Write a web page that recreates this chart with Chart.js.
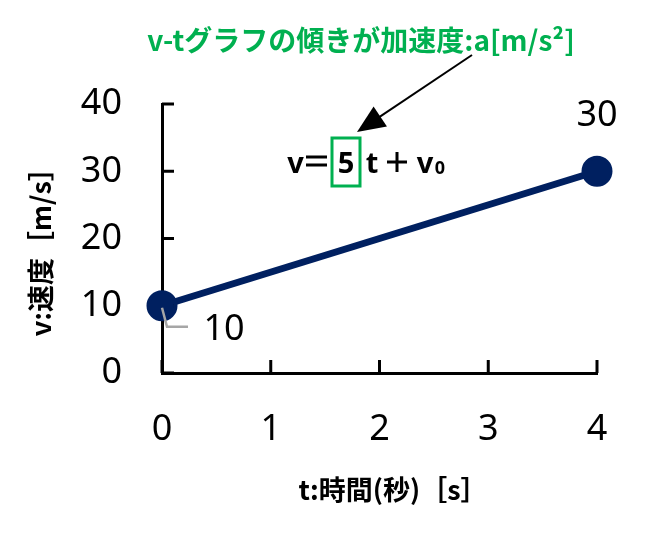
<!DOCTYPE html>
<html lang="ja">
<head>
<meta charset="utf-8">
<script src="https://cdn.jsdelivr.net/npm/chart.js@4.4.1/dist/chart.umd.min.js"></script>
<style>
  html, body { margin: 0; padding: 0; background: #fff; }
  #wrap { width: 665px; height: 534px; }
</style>
</head>
<body>
<div id="wrap"><canvas id="vt" width="665" height="534"></canvas></div>
<script>
const times = [0, 4];
const speeds = [10, 30];
const xRange = [0, 4];
const yRange = [0, 40];
const xTitle = "　t:時間(秒)［s］";
const yTitle = "v:速度［m/s］　";
const noteText = "v-tグラフの傾きが加速度:a[m/s²]";

const navy = "#002060";
const green = "#00B050";
const jpFont = "'Noto Sans CJK JP', 'Noto Sans', sans-serif";
const numFont = "'Noto Sans', 'DejaVu Sans', sans-serif";

// inward tick marks, data labels and the slope note
const extras = {
  id: "extras",
  afterDraw(chart) {
    const ctx = chart.ctx;
    const xs = chart.scales.x;
    const ys = chart.scales.y;
    const area = chart.chartArea;

    ctx.save();
    ctx.strokeStyle = "#000";
    ctx.lineWidth = 3;
    xs.ticks.forEach(t => {
      const px = xs.getPixelForValue(t.value);
      ctx.beginPath();
      ctx.moveTo(px, area.bottom);
      ctx.lineTo(px, area.bottom - 13);
      ctx.stroke();
    });
    ys.ticks.forEach(t => {
      const py = ys.getPixelForValue(t.value);
      ctx.beginPath();
      ctx.moveTo(area.left, py);
      ctx.lineTo(area.left + 12, py);
      ctx.stroke();
    });

    // redraw points on top of the axes
    chart.getDatasetMeta(0).data.forEach(p => {
      ctx.fillStyle = navy;
      ctx.beginPath();
      ctx.arc(p.x, p.y, 12, 0, Math.PI * 2);
      ctx.fill();
    });

    // data labels
    const p0 = chart.getDatasetMeta(0).data[0];
    const p1 = chart.getDatasetMeta(0).data[1];
    ctx.fillStyle = "#000";
    ctx.font = "36px " + numFont;
    ctx.textAlign = "center";
    ctx.textBaseline = "middle";
    ctx.fillText(String(speeds[1]), p1.x, p1.y - 56);
    ctx.fillText(String(speeds[0]), p0.x + 62, p0.y + 24);

    ctx.strokeStyle = "#A6A6A6";
    ctx.lineWidth = 2.5;
    ctx.beginPath();
    ctx.moveTo(p0.x, p0.y + 2);
    ctx.lineTo(p0.x + 5, p0.y + 21);
    ctx.lineTo(p0.x + 26, p0.y + 21);
    ctx.stroke();

    // slope note
    ctx.fillStyle = green;
    ctx.font = "bold 28px " + jpFont;
    ctx.fillText(noteText, 361, 40);

    // arrow
    const ax = 472, ay = 55, bx = 357, by = 132;
    const ang = Math.atan2(by - ay, bx - ax);
    ctx.strokeStyle = "#000";
    ctx.lineWidth = 2;
    ctx.beginPath();
    ctx.moveTo(ax, ay);
    ctx.lineTo(bx - 20 * Math.cos(ang), by - 20 * Math.sin(ang));
    ctx.stroke();
    ctx.fillStyle = "#000";
    ctx.beginPath();
    ctx.moveTo(bx, by);
    ctx.lineTo(bx - 28 * Math.cos(ang) + 12 * Math.sin(ang), by - 28 * Math.sin(ang) - 12 * Math.cos(ang));
    ctx.lineTo(bx - 28 * Math.cos(ang) - 12 * Math.sin(ang), by - 28 * Math.sin(ang) + 12 * Math.cos(ang));
    ctx.closePath();
    ctx.fill();

    // equation v= 5 t + v0
    ctx.textAlign = "center";
    ctx.textBaseline = "alphabetic";
    ctx.fillStyle = "#000";
    ctx.font = "bold 29px " + numFont;
    ctx.fillText("v", 295.5, 173);
    ctx.fillText("5", 346, 173);
    ctx.fillText("t", 372, 173);
    ctx.fillText("v", 425, 173);
    ctx.font = "bold 18px " + numFont;
    ctx.fillText("0", 440, 174);
    ctx.lineWidth = 3;
    ctx.beginPath();
    ctx.moveTo(306, 157); ctx.lineTo(327, 157);
    ctx.moveTo(306, 165); ctx.lineTo(327, 165);
    ctx.moveTo(387, 162); ctx.lineTo(407, 162);
    ctx.moveTo(397, 152); ctx.lineTo(397, 172);
    ctx.stroke();

    ctx.strokeStyle = green;
    ctx.lineWidth = 3;
    ctx.strokeRect(332, 138, 28, 48);
    ctx.restore();
  }
};

new Chart(document.getElementById("vt"), {
  type: "scatter",
  data: {
    datasets: [
      {
        data: times.map((t, i) => ({ x: t, y: speeds[i] })),
        borderColor: navy,
        backgroundColor: navy,
        borderWidth: 7,
        showLine: true,
        pointRadius: 12,
        pointHoverRadius: 12,
        clip: false
      }
    ]
  },
  options: {
    responsive: false,
    animation: false,
    devicePixelRatio: 1,
    layout: {
      padding: { left: 0, right: 68, top: 104, bottom: 0 }
    },
    plugins: {
      legend: { display: false },
      tooltip: { enabled: false }
    },
    scales: {
      x: {
        type: "linear",
        min: xRange[0],
        max: xRange[1],
        afterFit(scale) { scale.height = 161; },
        ticks: {
          stepSize: 1,
          color: "#000",
          padding: 35,
          font: { family: numFont, size: 36 }
        },
        grid: { drawOnChartArea: false, drawTicks: false },
        border: { display: true, color: "#000", width: 3 },
        title: {
          display: true,
          text: xTitle,
          color: "#000",
          font: { family: jpFont, size: 27, weight: "bold" },
          padding: { top: 0, bottom: 28 }
        }
      },
      y: {
        min: yRange[0],
        max: yRange[1],
        afterFit(scale) { scale.width = 162; },
        ticks: {
          stepSize: 10,
          color: "#000",
          padding: 40,
          font: { family: numFont, size: 36 }
        },
        grid: { drawOnChartArea: false, drawTicks: false },
        border: { display: true, color: "#000", width: 3 },
        title: {
          display: true,
          text: yTitle,
          color: "#000",
          font: { family: jpFont, size: 27, weight: "bold" },
          padding: { top: 25, bottom: 0 }
        }
      }
    }
  },
  plugins: [extras]
});
</script>
</body>
</html>
